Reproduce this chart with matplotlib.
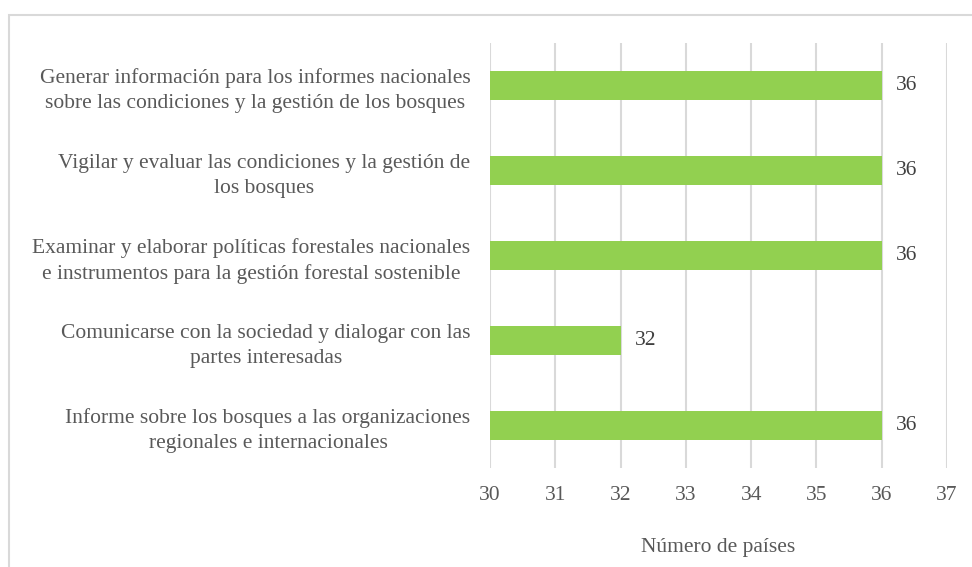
import matplotlib
matplotlib.use('Agg')
import matplotlib.pyplot as plt
from matplotlib.patches import Rectangle

plt.rcParams['font.family'] = ['Liberation Serif', 'DejaVu Serif']

# datos
categorias = [
    "Generar información para los informes nacionales\nsobre las condiciones y la gestión de los bosques",
    "Vigilar y evaluar las condiciones y la gestión de\nlos bosques",
    "Examinar y elaborar políticas forestales nacionales\ne instrumentos para la gestión forestal sostenible",
    "Comunicarse con la sociedad y dialogar con las\npartes interesadas",
    "Informe sobre los bosques a las organizaciones\nregionales e internacionales",
]
valores = [36, 36, 36, 32, 36]
ticks_x = [30, 31, 32, 33, 34, 35, 36, 37]

fs = 15.5
fig = plt.figure(figsize=(9.72, 5.67), dpi=100)
ax = fig.add_axes([0.5041, 0.1746, 0.4702, 0.7496])

# marco del gráfico
fig.patches.append(Rectangle((9 / 972, -0.05), 1.1, 1 - 15 / 567 + 0.05,
                             transform=fig.transFigure, fill=False,
                             edgecolor='#d9d9d9', linewidth=1.5))

pos = list(range(len(categorias)))
bars = ax.barh(pos, [v - 30 for v in valores], left=30, height=0.35,
               color='#92D050', zorder=3)

for b, v in zip(bars, valores):
    ax.text(b.get_x() + b.get_width() + 0.22, b.get_y() + b.get_height() / 2,
            str(v), va='center', ha='left', fontsize=fs, color='#404040')

ax.set_xlim(30, 37)
ax.set_ylim(len(categorias) - 0.5, -0.5)
ax.set_xticks(ticks_x)
ax.set_yticks(pos)
ax.set_yticklabels(categorias, multialignment='center', fontsize=fs,
                   color='#595959', linespacing=1.4)
ax.tick_params(axis='x', labelsize=fs, labelcolor='#595959', length=0, pad=13)
ax.tick_params(axis='y', length=0, pad=14)
ax.grid(axis='x', color='#d9d9d9', linewidth=1.5, zorder=0)
for s in ax.spines.values():
    s.set_visible(False)
ax.set_xlabel("Número de países", fontsize=fs, color='#595959', labelpad=24)

fig.savefig('out.png', dpi=100)
